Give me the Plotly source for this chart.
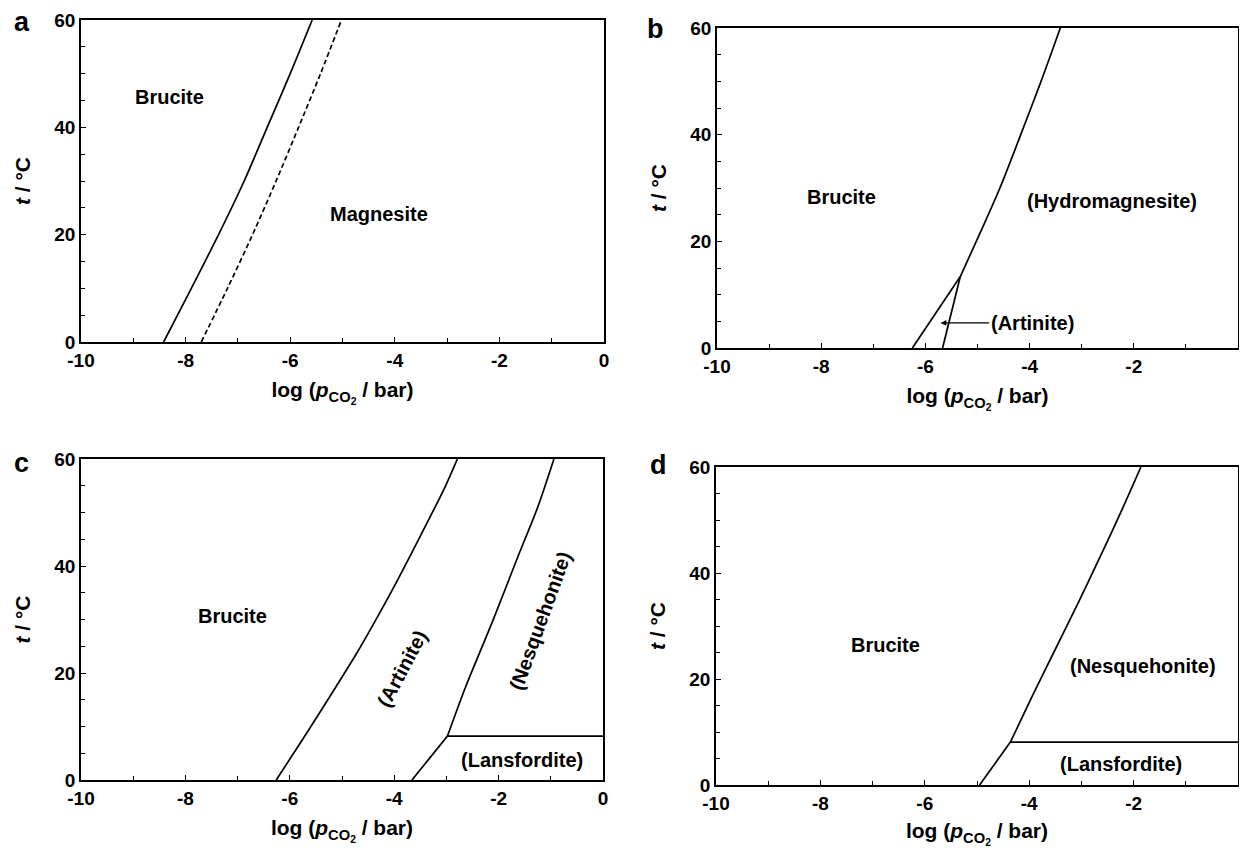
import plotly.graph_objects as go
from plotly.subplots import make_subplots

# panel a: brucite / magnesite boundaries
a_solid_t = [0, 10, 20, 30, 40, 50, 60]
a_solid_x = [-8.42, -7.89, -7.37, -6.88, -6.44, -6.00, -5.58]
a_dash_t = [0, 10, 20, 30, 40, 50, 60]
a_dash_x = [-7.70, -7.20, -6.72, -6.27, -5.84, -5.42, -5.02]

# panel b: brucite / artinite / hydromagnesite
b_low_t = [0, 13.4]
b_low_x = [-6.25, -5.33]
b_up_t = [13.4, 22, 30, 40, 50, 60]
b_up_x = [-5.33, -4.93, -4.57, -4.17, -3.78, -3.41]
b_art_t = [0, 13.4]
b_art_x = [-5.67, -5.33]

# panel c: brucite / artinite / nesquehonite / lansfordite
c_line1_t = [0, 7.8, 17.2, 23.5, 29.8, 36, 45.4, 54.9, 60]
c_line1_x = [-6.26, -5.74, -5.13, -4.73, -4.36, -4.01, -3.51, -3.02, -2.79]
c_low_t = [0, 8.2]
c_low_x = [-3.66, -2.98]
c_up_t = [8.2, 17.2, 29.8, 42, 51, 60]
c_up_x = [-2.98, -2.64, -2.11, -1.62, -1.25, -0.94]
c_lans_t = [8.2, 8.2]
c_lans_x = [-2.98, 0]

# panel d: brucite / nesquehonite / lansfordite
d_low_t = [0, 8.1]
d_low_x = [-4.95, -4.36]
d_up_t = [8.1, 17, 25, 34, 43.5, 52, 60]
d_up_x = [-4.36, -3.93, -3.53, -3.08, -2.62, -2.22, -1.86]
d_lans_t = [8.1, 8.1]
d_lans_x = [-4.36, 0]

x_ticks = [-10, -8, -6, -4, -2, 0]
x_labels = ["-10", "-8", "-6", "-4", "-2", "0"]
t_ticks = [0, 20, 40, 60]

FONT = "Liberation Sans, Arial, sans-serif"
# the page body has an 8px margin on every side; keep the figure inside the window
OFF = 8
W, H = 1247 - 2 * OFF, 856 - 2 * OFF

# plot-area pixel boxes in page coordinates (left, right, top, bottom)
boxes = {
    1: (81, 604, 20, 342),
    2: (717, 1238, 28, 348),
    3: (81, 603, 459, 780),
    4: (716, 1238, 467, 785),
}


def px(v):
    return (v - OFF) / W


def py(v):
    return 1 - (v - OFF) / H


fig = make_subplots(rows=2, cols=2)


def add(x, t, n, dash="solid"):
    r, c = (n - 1) // 2 + 1, (n - 1) % 2 + 1
    shape = "spline" if len(x) > 2 else "linear"
    fig.add_trace(go.Scatter(x=x, y=t, mode="lines",
                             line=dict(color="black", width=1.7, dash=dash, shape=shape, smoothing=0.8),
                             showlegend=False, hoverinfo="skip"), row=r, col=c)


add(a_solid_x, a_solid_t, 1)
add(a_dash_x, a_dash_t, 1, dash="5px,3px")
add(b_low_x, b_low_t, 2)
add(b_up_x, b_up_t, 2)
add(b_art_x, b_art_t, 2)
add(c_line1_x, c_line1_t, 3)
add(c_low_x, c_low_t, 3)
add(c_up_x, c_up_t, 3)
add(c_lans_x, c_lans_t, 3)
add(d_low_x, d_low_t, 4)
add(d_up_x, d_up_t, 4)
add(d_lans_x, d_lans_t, 4)

xtitle = "<b>log (<i>p</i><sub>CO<sub>2</sub></sub> / bar)</b>"
ytitle = "<b><i>t</i> / °C</b>"
tickfont = dict(size=19, color="black", family=FONT, weight="bold")
titlefont = dict(size=21, color="black", family=FONT)

for n, (l, r, t, b) in boxes.items():
    sfx = "" if n == 1 else str(n)
    fig.layout["xaxis" + sfx].update(
        domain=[px(l), px(r)], range=[-10, 0], tickvals=x_ticks, ticktext=x_labels,
        ticks="inside", ticklen=5, tickwidth=1.4, tickcolor="black",
        minor=dict(dtick=1, ticks="inside", ticklen=4, tickwidth=1.2, tickcolor="black"),
        showline=True, linecolor="black", linewidth=1.7, mirror=True,
        showgrid=False, zeroline=False, automargin=False,
        tickfont=tickfont,
        title=dict(text=xtitle, font=titlefont, standoff=13),
    )
    fig.layout["yaxis" + sfx].update(
        domain=[py(b), py(t)], range=[0, 60], tickvals=t_ticks,
        ticks="inside", ticklen=5, tickwidth=1.4, tickcolor="black",
        minor=dict(dtick=5, ticks="inside", ticklen=4, tickwidth=1.2, tickcolor="black"),
        showline=True, linecolor="black", linewidth=1.7, mirror=True,
        showgrid=False, zeroline=False, automargin=False,
        tickfont=tickfont,
        title=dict(text=ytitle, font=titlefont, standoff=18),
    )

lab = dict(size=20, color="black", family=FONT, weight="bold")
notes = [
    (1, -8.30, 45.6, "Brucite", 0),
    (1, -4.30, 23.8, "Magnesite", 0),
    (2, -7.62, 28.4, "Brucite", 0),
    (2, -2.41, 27.6, "(Hydromagnesite)", 0),
    (3, -7.09, 30.7, "Brucite", 0),
    (3, -3.85, 20.7, "(Artinite)", -62),
    (3, -1.21, 29.8, "(Nesquehonite)", -70),
    (3, -1.55, 3.8, "(Lansfordite)", 0),
    (4, -6.75, 26.5, "Brucite", 0),
    (4, -1.82, 22.5, "(Nesquehonite)", 0),
    (4, -2.24, 3.9, "(Lansfordite)", 0),
]
for n, x, y, txt, ang in notes:
    sfx = "" if n == 1 else str(n)
    fig.add_annotation(x=x, y=y, xref="x" + sfx, yref="y" + sfx, text=txt,
                       showarrow=False, textangle=ang, font=lab)

# arrow pointing into the artinite field of panel b
fig.add_annotation(x=-5.71, y=4.7, xref="x2", yref="y2", ax=-3.95, ay=4.7,
                   axref="x2", ayref="y2", text="(Artinite)", font=lab,
                   showarrow=True, arrowhead=2, arrowsize=0.9, arrowwidth=1.3,
                   arrowcolor="black", standoff=0)

# panel letters
for txt, lx, ly in [("a", 22, 22), ("b", 655, 29), ("c", 21, 463), ("d", 658, 465)]:
    fig.add_annotation(x=px(lx), y=py(ly), xref="paper", yref="paper", text="<b>%s</b>" % txt,
                       xanchor="center", yanchor="middle", showarrow=False,
                       font=dict(size=27, color="black", family=FONT))

fig.update_layout(width=W, height=H, margin=dict(l=0, r=0, t=0, b=0),
                  paper_bgcolor="white", plot_bgcolor="white", font=dict(family=FONT))

fig.write_html("out.html")
